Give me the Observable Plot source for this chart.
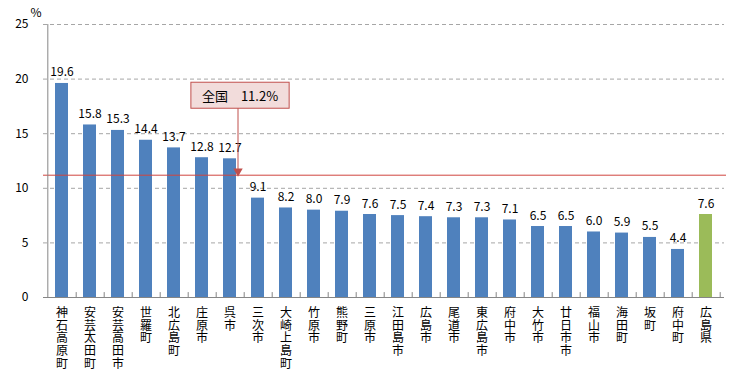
<!DOCTYPE html>
<html><head><meta charset="utf-8">
<script src="https://cdn.jsdelivr.net/npm/d3@7"></script>
<script src="https://cdn.jsdelivr.net/npm/@observablehq/plot@0.6"></script>
<style>
body{margin:0;background:#fff}
.xlab text{writing-mode:vertical-rl;text-orientation:upright;}
</style>
</head><body><div id="chart"></div>
<script>
const categories = ["神石高原町","安芸太田町","安芸高田市","世羅町","北広島町","庄原市","呉市","三次市","大崎上島町","竹原市","熊野町","三原市","江田島市","広島市","尾道市","東広島市","府中市","大竹市","廿日市市","福山市","海田町","坂町","府中町","広島県"];
const values = [19.6,15.8,15.3,14.4,13.7,12.8,12.7,9.1,8.2,8.0,7.9,7.6,7.5,7.4,7.3,7.3,7.1,6.5,6.5,6.0,5.9,5.5,4.4,7.6];
const highlight = ["広島県"];
const national = 11.2;
const nationalLabel = "全国　11.2%";
const labelY = 18.4;
const labelAt = "呉市";
const yTicks = [0,5,10,15,20,25];
const unitLabel = "%";

const data = categories.map((c,i)=>({name:c, value:values[i], hl: highlight.includes(c)}));
const W=756,H=379,mL=43,mR=32,mT=24,mB=82;
const step=(W-mL-mR)/categories.length;
const font = "'Noto Sans CJK JP', 'Noto Sans', sans-serif";
const maxLen = d3.max(categories, c => [...c].length);
const charMarks = d3.range(maxLen).map(i =>
  Plot.text(categories.filter(c => [...c].length > i), {
    x: d => d, text: d => [...d][i], frameAnchor: "bottom",
    textAnchor: "start", lineAnchor: "middle", dy: 5 + i * 12.8,
    fontSize: 12, className: "xlab"
  })
);

const plot = Plot.plot({
  width:W,height:H,marginLeft:mL,marginRight:mR,marginTop:mT,marginBottom:mB,
  style:{fontFamily:font, fontSize:"12px", color:"#000", background:"#fff", overflow:"visible"},
  x:{domain:categories, paddingInner:0.52, paddingOuter:0.26, label:null, axis:null},
  y:{domain:[0,25], label:null},
  marks:[
    Plot.ruleY(yTicks.filter(d=>d>0), {stroke:"#a6a6a6", strokeDasharray:"4,3"}),
    Plot.barY(data,{x:"name",y:"value",fill:d=>d.hl?"#9bbb59":"#4f81bd"}),
    Plot.ruleY([national],{stroke:"#d0443f", insetRight:-2}),
    Plot.ruleY([0],{stroke:"#868686"}),
    Plot.ruleX([categories[0]],{x:d=>d, dx:-step/2, y1:0, y2:25, stroke:"#868686"}),
    Plot.ruleX(categories,{x:d=>d, dx:step/2, y1:0, y2:0.45, stroke:"#868686"}),
    Plot.text(data,{x:"name",y:"value",text:d=>d.value.toFixed(1), dy:-7, lineAnchor:"bottom", fontSize:12}),
    Plot.axisY(yTicks,{tickSize:0, tickPadding:15, fontSize:12, label:null}),
    ...charMarks,
    Plot.text([unitLabel],{frameAnchor:"top-left", dx:-13, dy:-16, fontSize:12}),
    Plot.ruleX([labelAt],{x:d=>d, dx:8, y1:national+0.4, y2:labelY, stroke:"#c0504d"}),
    Plot.dot([labelAt],{x:d=>d, y:()=>national, dx:8, dy:-4, symbol:"triangle", rotate:180, r:3.5, fill:"#c0504d", stroke:null}),
    Plot.text([nationalLabel],{x:()=>labelAt, y:()=>labelY, dx:10, fontSize:13, className:"anno"})
  ]
});
document.getElementById("chart").append(plot);
const t = plot.querySelector(".anno text");
if (t) {
  const b = t.getBBox();
  const g = t.parentNode;
  const rect = document.createElementNS("http://www.w3.org/2000/svg","rect");
  const cx = b.x + b.width/2, cy = b.y + b.height/2;
  const w = b.width + 22, h = 26;
  rect.setAttribute("x", cx - w/2);
  rect.setAttribute("y", cy - h/2);
  rect.setAttribute("width", w);
  rect.setAttribute("height", h);
  rect.setAttribute("fill", "#f2dcdb");
  rect.setAttribute("stroke", "#c0504d");
  if (t.getAttribute("transform")) rect.setAttribute("transform", t.getAttribute("transform"));
  g.insertBefore(rect, t);
}
</script>
</body></html>
